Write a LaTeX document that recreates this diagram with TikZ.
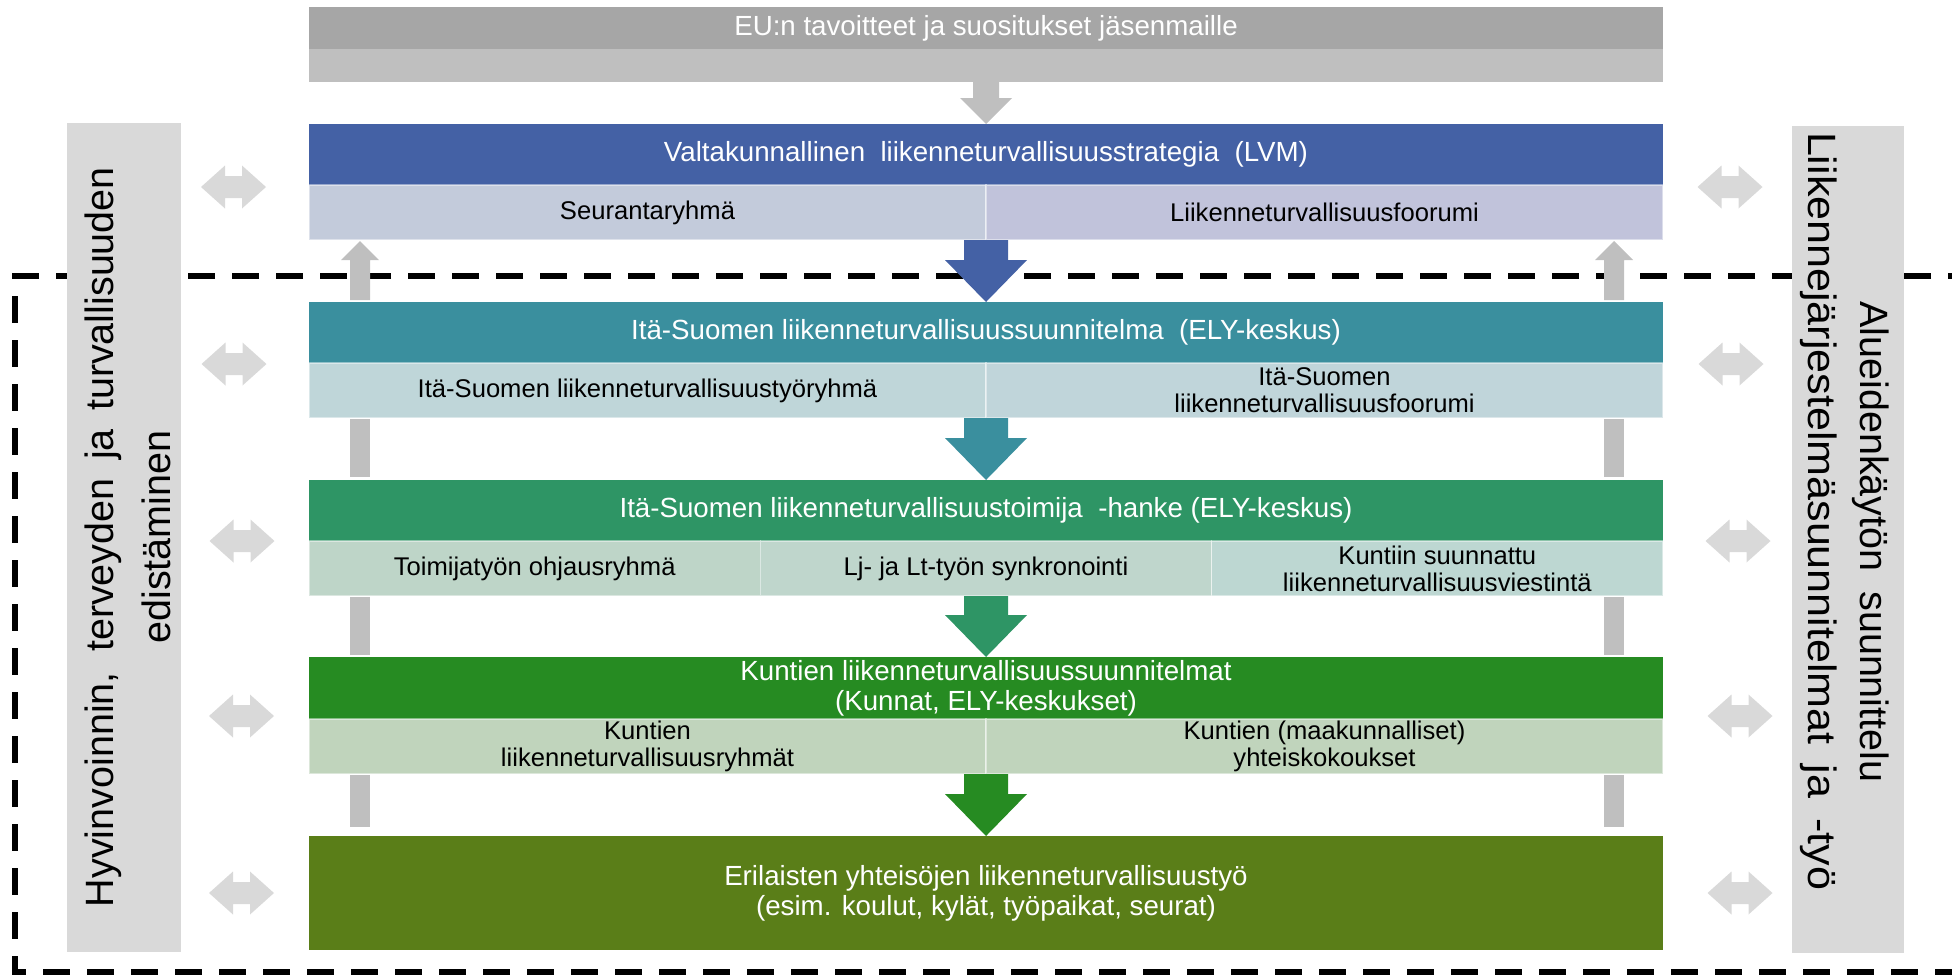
\documentclass[tikz,border=0pt]{standalone}
\usepackage{graphicx}
\usepackage{fontspec}
\setmainfont{Liberation Sans}
\usetikzlibrary{calc}
\definecolor{eudark}{HTML}{A6A6A6}
\definecolor{eulight}{HTML}{BFBFBF}
\definecolor{cblue}{HTML}{4461A5}
\definecolor{sblueA}{HTML}{C3CBDB}
\definecolor{sblueB}{HTML}{C1C3DB}
\definecolor{cteal}{HTML}{3A8F9E}
\definecolor{stealA}{HTML}{BFD6D9}
\definecolor{stealB}{HTML}{C0D5DA}
\definecolor{cgreen}{HTML}{2E9565}
\definecolor{sgreenA}{HTML}{BED5C8}
\definecolor{sgreenB}{HTML}{BFD6CC}
\definecolor{sgreenC}{HTML}{BDD7D2}
\definecolor{cdgreen}{HTML}{268B22}
\definecolor{sdgreen}{HTML}{C0D4BC}
\definecolor{colive}{HTML}{5A7E18}
\definecolor{sidegray}{HTML}{D9D9D9}
\definecolor{congray}{HTML}{BFBFBF}
\newcommand{\hdfont}{\fontsize{13.85}{15}\selectfont}
\newcommand{\sbfont}{\fontsize{12.8}{13.5}\selectfont}
\newcommand{\sdfont}{\fontsize{19.75}{24}\selectfont}
\newcommand{\wide}[1]{\scalebox{1.09}[1]{#1}}
% big down block arrow: #1 start, #2 tip, #3 colour
\newcommand{\bigdown}[3]{%
  \fill[#3] let \p1=(#1), \p2=(#2) in
    (\x1-11pt,\y1) -- (\x1+11pt,\y1) -- (\x1+11pt,\y2+21pt) -- (\x1+20.5pt,\y2+21pt)
    -- (\x1,\y2) -- (\x1-20.5pt,\y2+21pt) -- (\x1-11pt,\y2+21pt) -- cycle;}
% grey up arrow: #1 base, #2 tip
\newcommand{\grayup}[2]{%
  \fill[congray] let \p1=(#1), \p2=(#2) in
    (\x1-5pt,\y1) -- (\x1-5pt,\y2-9.5pt) -- (\x1-9.5pt,\y2-9.5pt) -- (\x1,\y2)
    -- (\x1+9.5pt,\y2-9.5pt) -- (\x1+5pt,\y2-9.5pt) -- (\x1+5pt,\y1) -- cycle;}
% two-way arrow centred at (#1,#2)
\newcommand{\twoway}[2]{%
  \fill[sidegray] (#1,#2) ++(-32.5,0) -- ++(24,-21.5) -- ++(0,10.5) -- ++(17,0)
    -- ++(0,-10.5) -- ++(24,21.5) -- ++(-24,21.5) -- ++(0,-10.5) -- ++(-17,0)
    -- ++(0,10.5) -- cycle;}
\begin{document}
\begin{tikzpicture}[x=0.5pt,y=-0.5pt,
  hdr/.style={rectangle, inner sep=0pt, outer sep=0pt, minimum width=677pt,
    text=white, font=\hdfont, align=center},
  subc/.style={rectangle, inner sep=0pt, outer sep=0pt, draw=white, draw opacity=0.45,
    line width=0.6pt, font=\sbfont, align=center, text=black, minimum height=27.5pt},
  half/.style={subc, minimum width=338.5pt},
  third/.style={subc, minimum width=225.67pt},
  sidebox/.style={rectangle, inner sep=0pt, outer sep=0pt, fill=sidegray},
  sidetxt/.style={inner sep=0pt, outer sep=0pt, font=\sdfont, text=black, anchor=base},
  frame/.style={line width=3pt, dash pattern=on 13.5pt off 8.5pt}]
\useasboundingbox (0,0) rectangle (1952,976);
\clip (0,0) rectangle (1952,976);

% dashed frame
\draw[frame] (1975,276) -- (15,276) -- (15,972) -- (1975,972);

% side boxes
\node[sidebox, minimum width=57pt, minimum height=414.5pt] (L) at (124,537.5) {};
\node[sidebox, minimum width=56pt, minimum height=413.5pt] (R) at (1848,539.5) {};
\node[sidetxt, rotate=90] (Lt1) at (113,537) {\makebox[370pt][s]{Hyvinvoinnin, terveyden ja turvallisuuden}};
\node[sidetxt, rotate=90] (Lt2) at (170,537) {edistäminen};
\node[sidetxt, rotate=-90] (Rt1) at (1860,542) {\makebox[240.5pt][s]{Alueidenkäytön suunnittelu}};
\node[sidetxt, rotate=-90] (Rt2) at (1808,511) {\makebox[379pt][s]{\wide{Liikennejärjestelmäsuunnitelmat}\ \wide{ja}\ \wide{-työ}}};

% EU bar
\node[hdr, fill=eudark, minimum height=21pt] (eu1) at (986,28) {EU:n tavoitteet ja suositukset jäsenmaille};
\node[hdr, fill=eulight, minimum height=16.5pt] (eu2) at (986,65.5) {};

% level 1
\node[hdr, fill=cblue, minimum height=30.5pt] (h1) at (986,154.5) {Valtakunnallinen\ \ liikenneturvallisuusstrategia\ \ (LVM)};
\node[half, fill=sblueA] (s1a) at (647.5,212.5) {Seurantaryhmä};
\node[half, fill=sblueB] (s1b) at (1324.5,212.5) {Liikenneturvallisuusfoorumi};

% level 2
\node[hdr, fill=cteal, minimum height=30.5pt] (h2) at (986,332.5) {Itä-Suomen liikenneturvallisuussuunnitelma\ \ (ELY-keskus)};
\node[half, fill=stealA] (s2a) at (647.5,390.5) {Itä-Suomen liikenneturvallisuustyöryhmä};
\node[half, fill=stealB] (s2b) at (1324.5,390.5) {Itä-Suomen\\liikenneturvallisuusfoorumi};

% level 3
\node[hdr, fill=cgreen, minimum height=30.5pt] (h3) at (986,510.5) {Itä-Suomen liikenneturvallisuustoimija\ \ -hanke (ELY-keskus)};
\node[third, fill=sgreenA] (s3a) at (534.67,568.5) {Toimijatyön ohjausryhmä};
\node[third, fill=sgreenB] (s3b) at (986,568.5) {Lj- ja Lt-työn synkronointi};
\node[third, fill=sgreenC] (s3c) at (1437.33,568.5) {Kuntiin suunnattu\\liikenneturvallisuusviestintä};

% level 4
\node[hdr, fill=cdgreen, minimum height=31pt] (h4) at (986,688) {Kuntien liikenneturvallisuussuunnitelmat\\(Kunnat, ELY-keskukset)};
\node[half, fill=sdgreen] (s4a) at (647.5,746.5) {Kuntien\\liikenneturvallisuusryhmät};
\node[half, fill=sdgreen] (s4b) at (1324.5,746.5) {Kuntien (maakunnalliset)\\yhteiskokoukset};

% level 5
\node[hdr, fill=colive, minimum height=57pt] (b5) at (986,893) {Erilaisten yhteisöjen liikenneturvallisuustyö\\(esim. koulut, kylät, työpaikat, seurat)};

% EU down arrow
\fill[congray] let \p1=(eu2.south), \p2=(h1.north) in
  (\x1-6.5pt,\y1) -- (\x1+6.5pt,\y1) -- (\x1+6.5pt,\y2+13pt) -- (\x1+13pt,\y2+13pt)
  -- (\x1,\y2) -- (\x1-13pt,\y2+13pt) -- (\x1-6.5pt,\y2+13pt) -- cycle;

% coloured down arrows
\bigdown{s1a.south east}{h2.north}{cblue}
\bigdown{s2a.south east}{h3.north}{cteal}
\bigdown{s3b.south}{h4.north}{cgreen}
\bigdown{s4a.south east}{b5.north}{cdgreen}

% grey feedback arrows and bars (left)
\grayup{$(h2.north west)+(51,-2)$}{$(s1a.south west)+(51,1)$}
\fill[congray] ($(s2a.south west)+(41,1)$) rectangle ($(h3.north west)+(61,-3)$);
\fill[congray] ($(s3a.south west)+(41,1)$) rectangle ($(h4.north west)+(61,-2)$);
\fill[congray] ($(s4a.south west)+(41,1)$) rectangle ($(b5.north west)+(61,-9)$);
% right
\grayup{$(h2.north east)+(-49,-2)$}{$(s1b.south east)+(-49,1)$}
\fill[congray] ($(s2b.south east)+(-59,1)$) rectangle ($(h3.north east)+(-39,-3)$);
\fill[congray] ($(s3c.south east)+(-59,1)$) rectangle ($(h4.north east)+(-39,-2)$);
\fill[congray] ($(s4b.south east)+(-59,1)$) rectangle ($(b5.north east)+(-39,-9)$);

% two-way arrows
\twoway{233.5}{187}
\twoway{234}{364}
\twoway{242}{541}
\twoway{241.5}{716}
\twoway{241.5}{893}
\twoway{1730}{187}
\twoway{1731}{364}
\twoway{1738}{541}
\twoway{1740}{716}
\twoway{1740}{893}
\end{tikzpicture}
\end{document}
